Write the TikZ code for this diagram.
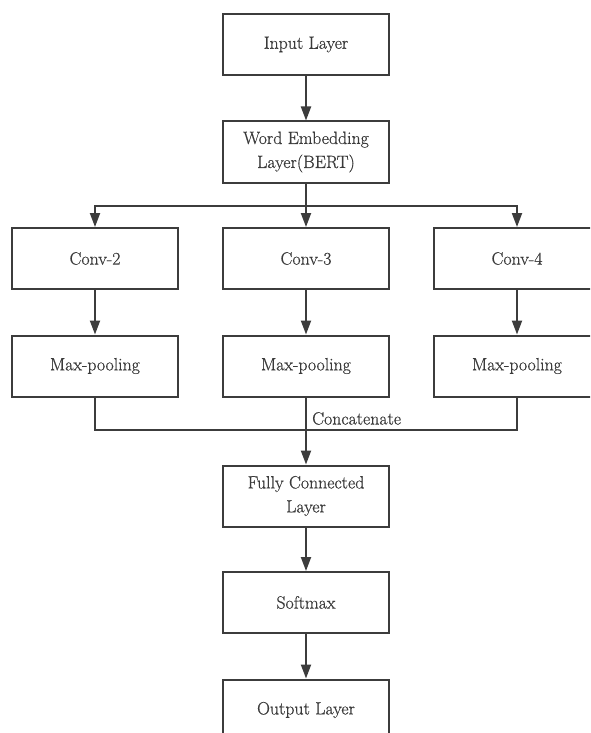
\documentclass[tikz,border=0pt]{standalone}
\usepackage{fontspec}
\newfontfamily\labelfont{Latin Modern Roman}[FakeBold=0.6]
\usetikzlibrary{arrows.meta}
\definecolor{linec}{HTML}{3C3C3C}
\definecolor{textc}{HTML}{3A3A3A}
\begin{document}
\begin{tikzpicture}[x=1pt,y=-1pt,
  layer/.style={draw=linec, line width=2pt, rectangle, minimum width=166pt,
    minimum height=61pt, inner sep=2pt, align=center, text=textc,
    font=\labelfont\fontsize{17.8}{24}\selectfont},
  flow/.style={draw=linec, line width=2pt, -{Triangle[length=14pt,width=10pt]}},
  wire/.style={draw=linec, line width=2pt}]
\useasboundingbox (0,0) rectangle (590,733);
\clip (0,0) rectangle (590,733);
\fill[white] (0,0) rectangle (590,733);

% main column
\node[layer] (inp) at (306,44.5) {Input Layer};
\node[layer] (emb) at (306,152) {Word Embedding\\Layer(BERT)};

% three convolution branches
\node[layer] (c2) at (95,258.5) {Conv-2};
\node[layer] (c3) at (306,258.5) {Conv-3};
\node[layer] (c4) at (517,258.5) {Conv-4};
\node[layer] (m2) at (95,366) {Max-pooling};
\node[layer] (m3) at (306,366) {Max-pooling};
\node[layer] (m4) at (517,366) {Max-pooling};

% classifier head
\node[layer] (fc) at (306,496) {Fully Connected\\Layer};
\node[layer] (sm) at (306,602.5) {Softmax};
\node[layer] (out) at (306,710) {Output Layer};

\coordinate (split) at (306,206);
\coordinate (merge) at (306,430);

\draw[flow] (inp) -- (emb);
\draw[flow] (emb) -- (c3);
\draw[flow] (split) -| (c2.north);
\draw[flow] (split) -| (c4.north);

\draw[flow] (c2) -- (m2);
\draw[flow] (c3) -- (m3);
\draw[flow] (c4) -- (m4);

\draw[wire] (m2.south) |- (merge);
\draw[wire] (m4.south) |- (merge);
\draw[flow] (m3) -- (fc);
\node[anchor=south west, inner sep=0pt, text=textc,
  font=\labelfont\fontsize{17.8}{24}\selectfont] (cat) at (312,425) {Concatenate};

\draw[flow] (fc) -- (sm);
\draw[flow] (sm) -- (out);
\end{tikzpicture}
\end{document}
